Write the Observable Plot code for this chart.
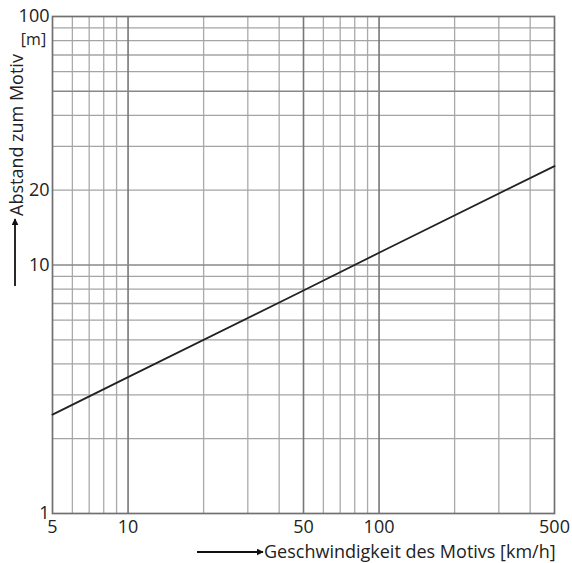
<!DOCTYPE html>
<html><head><meta charset="utf-8">
<script src="https://cdn.jsdelivr.net/npm/d3@7"></script>
<script src="https://cdn.jsdelivr.net/npm/@observablehq/plot@0.6"></script>
<style>
body{margin:0;background:#fff;}
#chart svg{font-family:"Open Sans",sans-serif;}
</style>
</head><body><div id="chart"></div>
<script>
const speeds = [5, 10, 50, 100, 500];
const distances = [2.5, 3.54, 7.9, 11.2, 25];
const xTicks = [5, 10, 50, 100, 500];
const yTicks = [1, 8, 10, 20, 100];
const xGridMinor = [6, 7, 8, 9, 20, 30, 40, 60, 70, 80, 90, 200, 300, 400];
const xGridMajor = [10, 50, 100];
const yGridMinor = [2, 3, 4, 5, 6, 7, 8, 9, 20, 30, 40, 60, 70, 80, 90];
const yGridMajor = [10, 50];
const xTitle = "Geschwindigkeit des Motivs [km/h]";
const yTitle = "Abstand zum Motiv";
const yUnit = "[m]";

const data = speeds.map((v, i) => ({v, d: distances[i]}));

const chart = Plot.plot({
  width: 572,
  height: 563,
  marginLeft: 52,
  marginRight: 18,
  marginTop: 16,
  marginBottom: 50,
  style: {fontFamily: "Open Sans, sans-serif", background: "#fff", overflow: "visible"},
  x: {type: "log", domain: [5, 500]},
  y: {type: "log", domain: [1, 100]},
  marks: [
    Plot.ruleX(xGridMinor, {stroke: "#aaa", strokeWidth: 1.3}),
    Plot.ruleY(yGridMinor, {stroke: "#a4a4a4", strokeWidth: 1.3}),
    Plot.ruleX(xGridMajor, {stroke: "#777", strokeWidth: 1.6}),
    Plot.ruleY(yGridMajor, {stroke: "#888", strokeWidth: 1.4}),
    Plot.frame({stroke: "#707070", strokeWidth: 1.7}),
    Plot.line(data, {x: "v", y: "d", stroke: "#222", strokeWidth: 1.8}),
    Plot.axisX({ticks: xTicks, tickFormat: d => String(d), tickSize: 0, tickPadding: 7, fontSize: 18, label: null, fill: "#222"}),
    Plot.axisY({ticks: yTicks, tickFormat: d => String(d), tickSize: 0, tickPadding: 3, fontSize: 18, label: null, fill: "#222"}),
    Plot.text([yUnit], {frameAnchor: "left", y: () => 100, dx: -19, dy: 23, fontSize: 16, textAnchor: "middle", fill: "#222"})
  ]
});
document.getElementById("chart").appendChild(chart);

// axis titles with arrows (decoration)
const svg = d3.select(chart);
const defs = svg.append("defs");
defs.append("marker").attr("id", "ah").attr("viewBox", "0 0 10 10").attr("refX", 9).attr("refY", 5)
  .attr("markerWidth", 7).attr("markerHeight", 7).attr("markerUnits", "userSpaceOnUse").attr("orient", "auto")
  .append("path").attr("d", "M0,0L10,5L0,10z").attr("fill", "#111");
svg.append("line").attr("x1", 197).attr("x2", 263).attr("y1", 552).attr("y2", 552)
  .attr("stroke", "#111").attr("stroke-width", 1.8).attr("marker-end", "url(#ah)");
svg.append("text").attr("x", 264).attr("y", 558).attr("font-size", 18).attr("fill", "#222")
  .attr("text-anchor", "start").attr("font-family", "Open Sans, sans-serif").text(xTitle);
svg.append("line").attr("x1", 15).attr("x2", 15).attr("y1", 286).attr("y2", 219)
  .attr("stroke", "#111").attr("stroke-width", 1.8).attr("marker-end", "url(#ah)");
svg.append("text").attr("transform", "translate(23,216) rotate(-90)").attr("font-size", 18).attr("fill", "#222")
  .attr("text-anchor", "start").attr("font-family", "Open Sans, sans-serif").text(yTitle);
</script>
</body></html>
